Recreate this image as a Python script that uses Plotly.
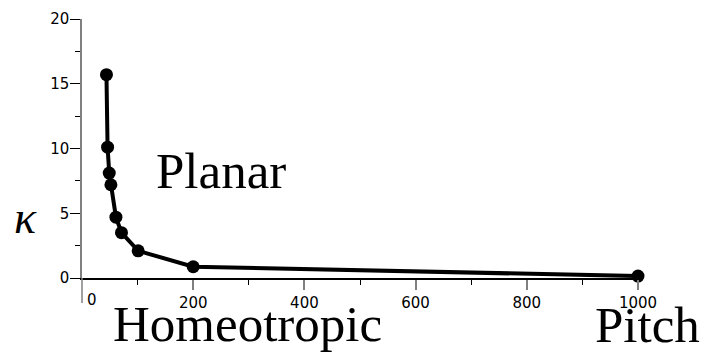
import plotly.graph_objects as go

pitch = [44, 46, 49, 52, 61, 71, 101, 200, 1000]
kappa = [15.7, 10.1, 8.1, 7.2, 4.7, 3.5, 2.1, 0.87, 0.15]
x_tickvals = [200, 400, 600, 800, 1000]
y_tickvals = [0, 5, 10, 15, 20]

fig = go.Figure()
fig.add_trace(go.Scatter(
    x=pitch, y=kappa, mode="lines+markers",
    line=dict(color="black", width=4),
    marker=dict(color="black", size=13),
    cliponaxis=False, showlegend=False,
))

tickfont = dict(family="DejaVu Sans", size=15, color="black")
serif = dict(family="Liberation Serif", size=51, color="black")

fig.update_layout(
    width=703, height=352,
    margin=dict(l=82, r=65, t=19, b=74, autoexpand=False),
    paper_bgcolor="white", plot_bgcolor="white",
    xaxis=dict(
        range=[0, 1000], showgrid=False, zeroline=False,
        showline=True, linecolor="black", linewidth=1.5,
        tickmode="array", tickvals=x_tickvals,
        ticks="outside", ticklen=10, tickcolor="#808080", tickwidth=1.5,
        tickfont=tickfont,
        minor=dict(tickvals=[100, 300, 500, 700, 900], ticks="outside",
                   ticklen=5, tickcolor="black", tickwidth=1.2),
    ),
    yaxis=dict(
        range=[0, 20], showgrid=False, zeroline=False,
        showline=True, linecolor="#808080", linewidth=1.5,
        tickmode="array", tickvals=y_tickvals,
        ticks="outside", ticklen=10, tickcolor="black", tickwidth=1.2,
        tickfont=tickfont, ticklabelstandoff=-2,
        minor=dict(tickvals=[2.5, 7.5, 12.5, 17.5], ticks="outside",
                   ticklen=5, tickcolor="black", tickwidth=1.2),
    ),
    shapes=[
        dict(type="line", xref="paper", yref="paper", x0=0, x1=0,
             y0=0, y1=-0.097, line=dict(color="#808080", width=1.5)),
    ],
    annotations=[
        dict(text="Planar", x=0.25, y=0.413, xref="paper", yref="paper", showarrow=False,
             font=serif, xanchor="center", yanchor="middle"),
        dict(text="Homeotropic", x=0.297, y=-0.176, xref="paper", yref="paper", showarrow=False,
             font=serif, xanchor="center", yanchor="middle"),
        dict(text="Pitch", x=1.017, y=-0.18, xref="paper", yref="paper", showarrow=False,
             font=serif, xanchor="center", yanchor="middle"),
        dict(text="<i>κ</i>", x=-0.1025, y=0.232, xref="paper", yref="paper", showarrow=False,
             font=dict(family="Liberation Serif", size=46, color="black"),
             xanchor="center", yanchor="middle"),
        dict(text="0", x=0.018, y=-0.085, xref="paper", yref="paper", showarrow=False,
             font=tickfont, xanchor="center", yanchor="middle"),
    ],
)

fig.write_html(
    "out.html",
    config={"displayModeBar": False},
    post_script="document.body.style.margin='0';document.body.style.overflow='hidden';",
)
